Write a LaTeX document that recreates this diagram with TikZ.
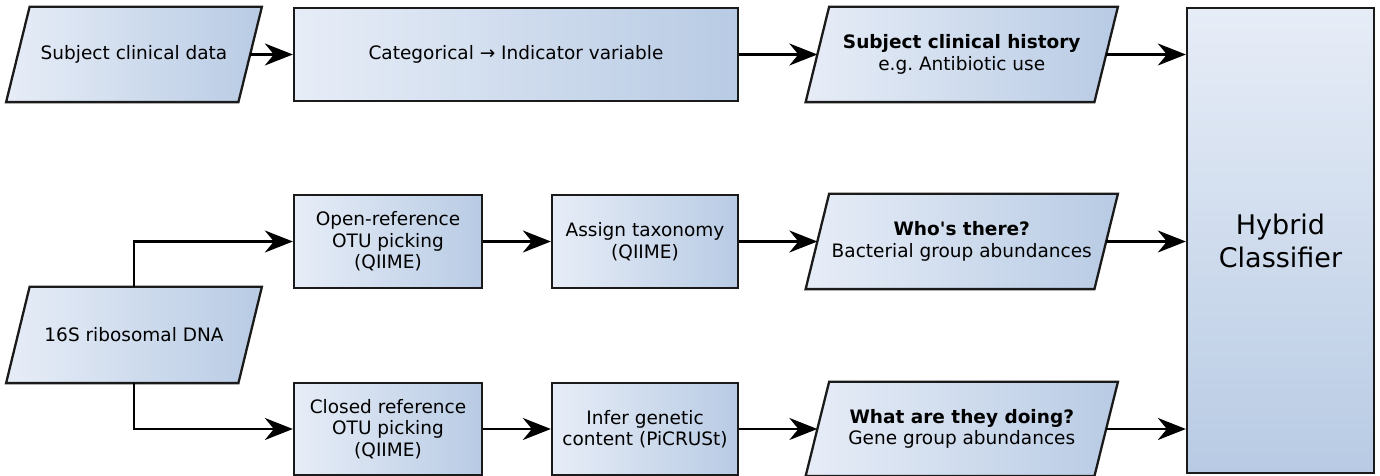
\documentclass[tikz,border=0pt]{standalone}
\usepackage{fontspec}
\setmainfont{DejaVu Sans}
\usetikzlibrary{arrows.meta,backgrounds}
\definecolor{boxlight}{RGB}{231,237,247}
\definecolor{boxdark}{RGB}{184,203,228}
\definecolor{edge}{RGB}{26,26,26}

% slanted data frame around a named node; #1 = half of the horizontal slant
\newcommand\slantframe[2][11.75pt]{%
  \path[frame] ([xshift=#1]#2.north west) -- ([xshift=#1]#2.north east)
    -- ([xshift=-#1]#2.south east) -- ([xshift=-#1]#2.south west) -- cycle;}

\begin{document}
\frenchspacing
\begin{tikzpicture}[x=1pt,y=1pt,
  frame/.style={draw=edge, line width=2.3pt, line join=miter, left color=boxlight, right color=boxdark},
  label/.style={align=center, inner sep=0pt, outer sep=1.15pt, font=\fontsize{18.5}{21.5}\selectfont},
  procbox/.style={label, frame, rectangle, minimum width=#1, minimum height=93pt},
  databox/.style={label, rectangle, minimum width=#1, minimum height=93pt},
  flow/.style={line width=2.3pt, -{Stealth[length=28pt,width=22pt,inset=9pt]}}
]
\useasboundingbox (0,0) rectangle (1380,476);

% clinical branch
\node[databox=230pt] (clin) at (134,421.5) {Subject clinical data};
\node[procbox=444pt] (cat) at (516,421.5) {Categorical → Indicator variable};
\node[databox=286.5pt] (hist) at (961.75,421.5) {\bfseries Subject clinical history\\e.g. Antibiotic use};

% sequencing input
\node[databox=230pt, minimum height=94pt] (s16) at (134,141) {16S ribosomal DNA};

% taxonomic branch
\node[procbox=188pt] (open) at (388,234.5) {Open-reference\\OTU picking\\(QIIME)};
\node[procbox=186pt] (tax) at (645,234.5) {Assign taxonomy\\(QIIME)};
\node[databox=286.5pt] (who) at (961.75,234.5) {\bfseries Who\textquotesingle s there?\\Bacterial group abundances};

% functional branch
\node[procbox=188pt, minimum height=92pt] (closed) at (388,47) {Closed reference\\OTU picking\\(QIIME)};
\node[procbox=186pt, minimum height=92pt] (infer) at (645,47) {Infer genetic\\content (PiCRUSt)};
\node[databox=286.5pt, minimum height=92pt] (what) at (961.75,47) {\bfseries What are they doing?\\Gene group abundances};

% classifier
\node[draw=edge, line width=2.3pt, top color=boxlight, bottom color=boxdark,
  minimum width=187pt, minimum height=465pt, inner sep=0pt, align=center,
  font=\fontsize{27}{33}\selectfont] (cls) at (1280.5,235.5) {Hybrid\\Classifier};

% slanted frames of the data nodes
\begin{scope}[on background layer]
  \slantframe{clin}
  \slantframe{hist}
  \slantframe{s16}
  \slantframe{who}
  \slantframe{what}
\end{scope}

% connectors
\draw[flow] (clin) -- (cat);
\draw[flow] (cat) -- (hist);
\draw[flow] (hist.east) -- (cls.west |- hist.east);

\draw[flow] (s16.north) |- (open.west);
\draw[flow] (open) -- (tax);
\draw[flow] (tax) -- (who);
\draw[flow] (who.east) -- (cls.west |- who.east);

\draw[flow] (s16.south) |- (closed.west);
\draw[flow] (closed) -- (infer);
\draw[flow] (infer) -- (what);
\draw[flow] (what.east) -- (cls.west |- what.east);
\end{tikzpicture}
\end{document}
